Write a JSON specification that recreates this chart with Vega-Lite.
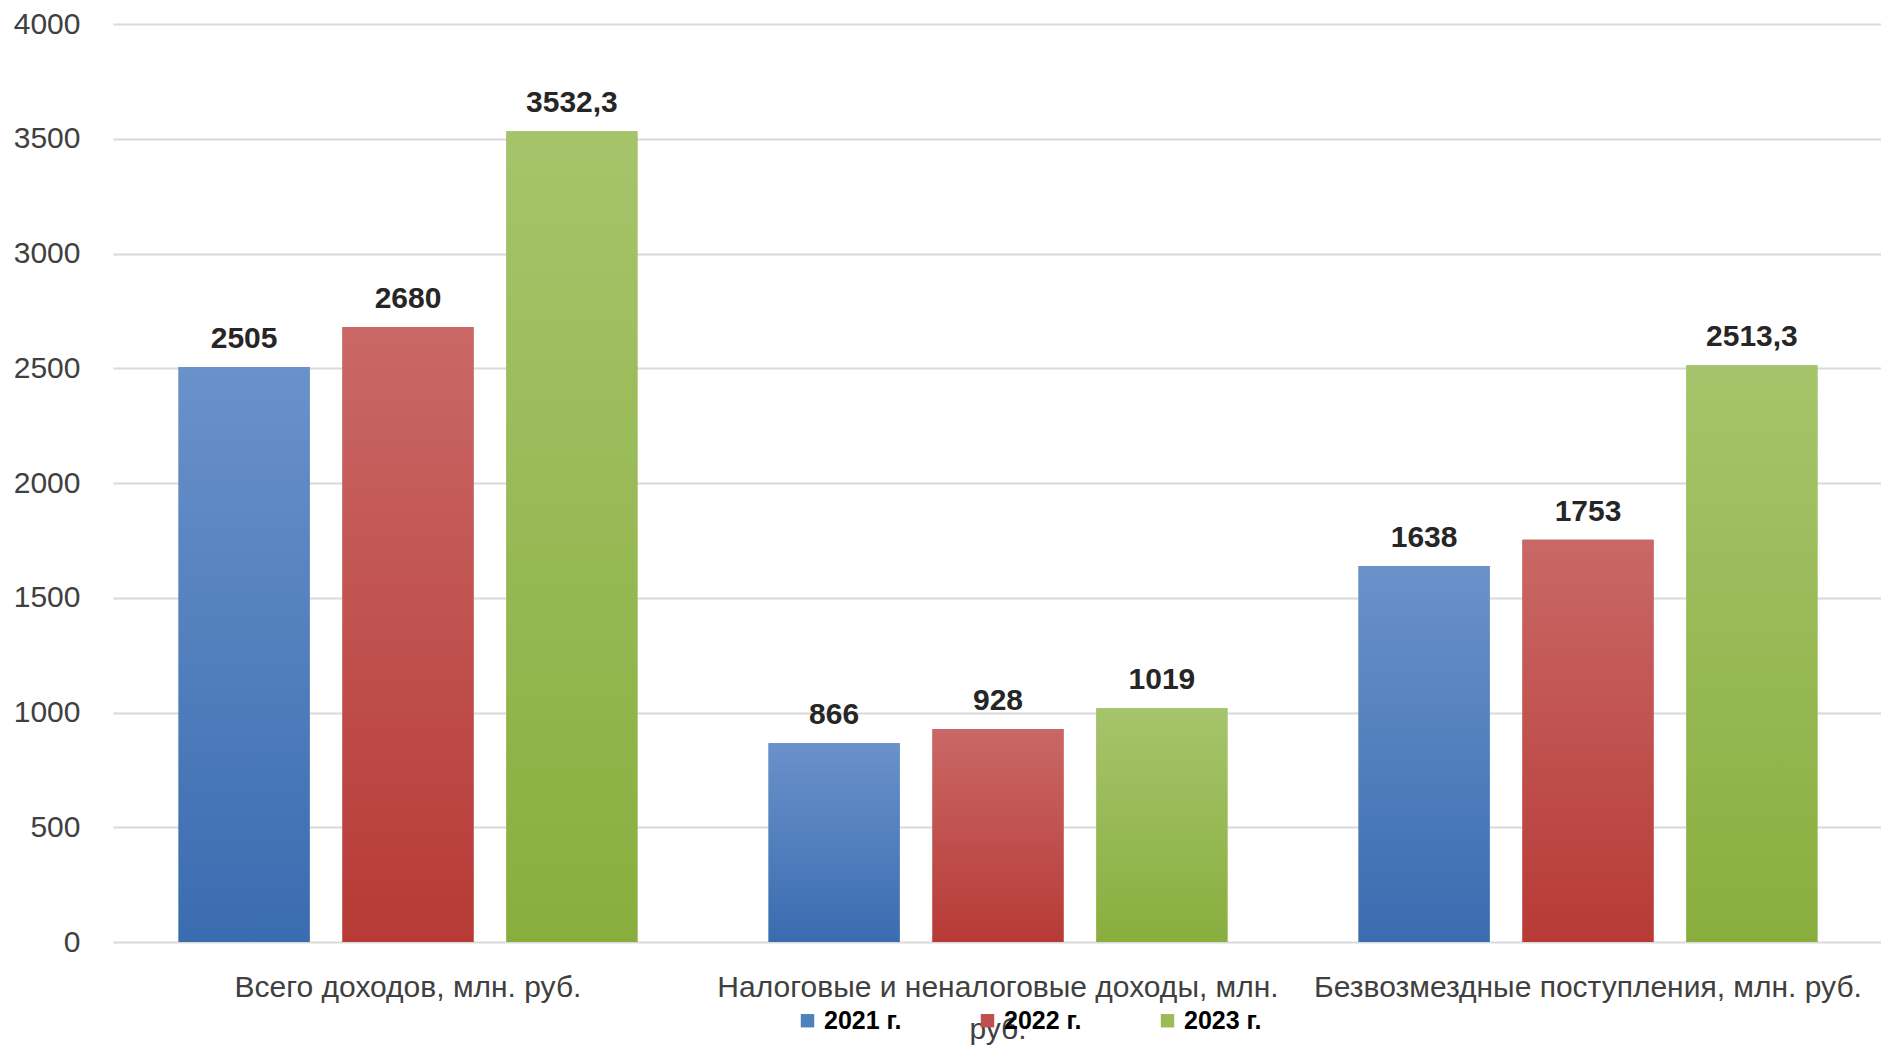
{
  "$schema": "https://vega.github.io/schema/vega-lite/v6.json",
  "width": 1770,
  "height": 918,
  "autosize": {"type": "none"},
  "padding": {"left": 113, "top": 24, "right": -2, "bottom": 103},
  "background": "white",
  "config": {
    "view": {"stroke": null},
    "locale": {"number": {"decimal": ",", "thousands": "", "grouping": [3], "currency": ["", ""]}},
    "font": "Liberation Sans"
  },
  "data": {
    "values": [
      {"category": "Всего доходов, млн. руб.", "year": "2021 г.", "value": 2505},
      {"category": "Всего доходов, млн. руб.", "year": "2022 г.", "value": 2680},
      {"category": "Всего доходов, млн. руб.", "year": "2023 г.", "value": 3532.3},
      {"category": "Налоговые и неналоговые доходы, млн. руб.", "year": "2021 г.", "value": 866},
      {"category": "Налоговые и неналоговые доходы, млн. руб.", "year": "2022 г.", "value": 928},
      {"category": "Налоговые и неналоговые доходы, млн. руб.", "year": "2023 г.", "value": 1019},
      {"category": "Безвозмездные поступления, млн. руб.", "year": "2021 г.", "value": 1638},
      {"category": "Безвозмездные поступления, млн. руб.", "year": "2022 г.", "value": 1753},
      {"category": "Безвозмездные поступления, млн. руб.", "year": "2023 г.", "value": 2513.3}
    ]
  },
  "encoding": {
    "x": {
      "field": "category",
      "type": "nominal",
      "sort": null,
      "scale": {"paddingInner": 0, "paddingOuter": 0},
      "axis": {
        "title": null,
        "domain": false,
        "ticks": false,
        "labelAngle": 0,
        "labelFontSize": 30,
        "labelColor": "#404040",
        "labelPadding": 30,
        "labelLimit": 0,
        "labelOverlap": false,
        "labelLineHeight": 42,
        "labelBaseline": "top",
        "labelExpr": "datum.label == 'Налоговые и неналоговые доходы, млн. руб.' ? ['Налоговые и неналоговые доходы, млн.', 'руб.'] : datum.label"
      }
    },
    "xOffset": {"field": "year", "type": "nominal", "scale": {"domain": ["2021 г.", "2022 г.", "2023 г."], "paddingInner": 0.2, "paddingOuter": 0.4}},
    "y": {
      "field": "value",
      "type": "quantitative",
      "scale": {"domain": [0, 4000]},
      "axis": {
        "title": null,
        "domain": false,
        "ticks": false,
        "values": [0, 500, 1000, 1500, 2000, 2500, 3000, 3500, 4000],
        "format": "d",
        "labelFontSize": 30,
        "labelColor": "#404040",
        "labelPadding": 33,
        "gridColor": "#D9D9D9",
        "gridWidth": 2
      }
    }
  },
  "layer": [
    {
      "mark": {"type": "bar"},
      "encoding": {
        "color": {
          "field": "year",
          "type": "nominal",
          "scale": {
            "domain": ["2021 г.", "2022 г.", "2023 г."],
            "range": ["#4F81BD", "#C0504D", "#9BBB59"]
          },
          "legend": {
            "title": null,
            "orient": "none",
            "legendX": 682,
            "legendY": 984,
            "direction": "horizontal",
            "symbolType": "square",
            "symbolSize": 180,
            "symbolStrokeWidth": 0,
            "symbolOpacity": 1,
            "labelFontSize": 25,
            "labelFontWeight": "bold",
            "labelColor": "#000000",
            "labelOffset": 4,
            "columnPadding": 73
          }
        }
      }
    },
    {
      "transform": [{"filter": "datum.year == '2021 г.'"}],
      "mark": {"type": "bar", "color": {"gradient": "linear", "x1": 0, "y1": 0, "x2": 0, "y2": 1, "stops": [{"offset": 0, "color": "#6A91CA"}, {"offset": 1, "color": "#3A6CB0"}]}},
      "encoding": {}
    },
    {
      "transform": [{"filter": "datum.year == '2022 г.'"}],
      "mark": {"type": "bar", "color": {"gradient": "linear", "x1": 0, "y1": 0, "x2": 0, "y2": 1, "stops": [{"offset": 0, "color": "#C96866"}, {"offset": 1, "color": "#B73A36"}]}},
      "encoding": {}
    },
    {
      "transform": [{"filter": "datum.year == '2023 г.'"}],
      "mark": {"type": "bar", "color": {"gradient": "linear", "x1": 0, "y1": 0, "x2": 0, "y2": 1, "stops": [{"offset": 0, "color": "#A6C46B"}, {"offset": 1, "color": "#89AE3E"}]}},
      "encoding": {}
    },
    {
      "mark": {"type": "text", "baseline": "bottom", "dy": -13, "fontSize": 30, "fontWeight": "bold", "color": "#262626"},
      "encoding": {
        "text": {"field": "value", "type": "quantitative", "format": "~f"}
      }
    }
  ]
}
